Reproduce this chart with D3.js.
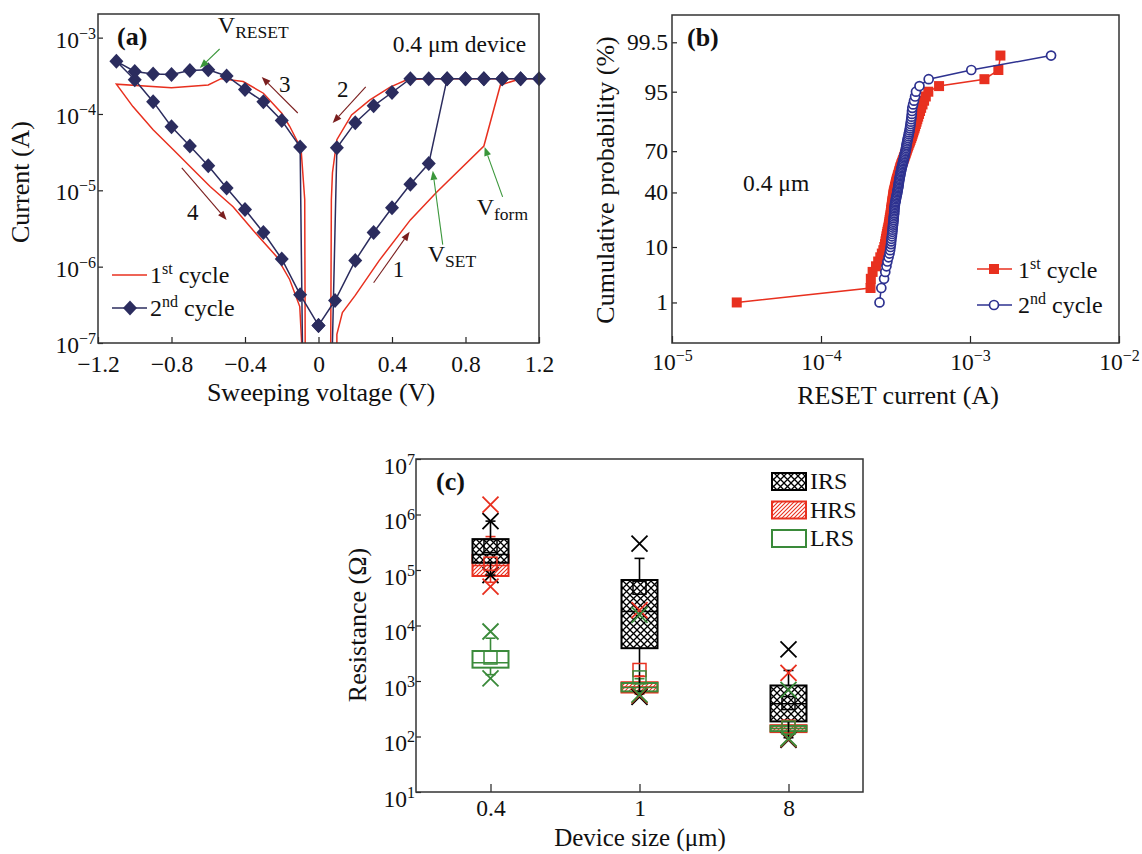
<!DOCTYPE html>
<html>
<head>
<meta charset="utf-8">
<script src="https://cdn.jsdelivr.net/npm/d3@7"></script>
<style>
  body { margin: 0; background: #fff; }
  text { font-family: "Liberation Serif", "Times New Roman", serif; fill: #111; }
</style>
</head>
<body>
<div id="chart"></div>
<script>
// ---------- (a) I-V sweeps, points in sweep order ----------
var cycle1V = [0.1, 0.1, 0.13, 0.2, 0.33, 0.5, 0.64, 0.9, 0.99, 1.1, 1.2,
  0.6, 0.48, 0.39, 0.28, 0.18, 0.1, 0.076, 0.07, 0.066,
  -0.072, -0.075, -0.095, -0.157, -0.2, -0.3, -0.41, -0.53, -0.6, -0.8, -1.1,
  -1.01, -0.9, -0.79, -0.68, -0.59, -0.465, -0.356, -0.23, -0.157, -0.102, -0.085]
var cycle1I = [5e-8, 1.3e-7, 2.5e-7, 4.2e-7, 1.2e-6, 4.1e-6, 9.3e-6, 3.8e-5, 2.4e-4, 2.9e-4, 2.9e-4,
  2.9e-4, 2.8e-4, 2.25e-4, 1.53e-4, 9.7e-5, 4.6e-5, 1.7e-5, 7.6e-6, 5e-8,
  5e-8, 7.6e-6, 3.5e-5, 6.9e-5, 1.02e-4, 1.87e-4, 2.66e-4, 2.9e-4, 2.4e-4, 2.2e-4, 2.46e-4,
  1.25e-4, 6.2e-5, 3.4e-5, 1.85e-5, 1.12e-5, 6.1e-6, 3.0e-6, 1.37e-6, 6.8e-7, 3.0e-7, 5e-8]

var cycle2V = [0, 0.09, 0.2, 0.3, 0.4, 0.5, 0.6, 0.7, 0.8, 0.9, 1.0, 1.1, 1.2,
  1.1, 1.0, 0.9, 0.8, 0.7, 0.6, 0.5, 0.4, 0.3, 0.2, 0.1, 0.073,
  -0.086, -0.1, -0.2, -0.3, -0.4, -0.5, -0.6, -0.7, -0.8, -0.9, -1.0, -1.1,
  -1.0, -0.9, -0.8, -0.7, -0.6, -0.5, -0.4, -0.3, -0.2, -0.1, 0]
var cycle2I = [1.7e-7, 3.6e-7, 1.2e-6, 2.8e-6, 5.9e-6, 1.2e-5, 2.24e-5, 2.9e-4, 2.9e-4, 2.9e-4, 2.9e-4, 2.9e-4, 2.9e-4,
  2.9e-4, 2.9e-4, 2.9e-4, 2.9e-4, 2.9e-4, 2.9e-4, 2.9e-4, 1.91e-4, 1.28e-4, 7.7e-5, 3.6e-5, 5e-8,
  5e-8, 3.7e-5, 8.2e-5, 1.45e-4, 2.1e-4, 3.15e-4, 3.8e-4, 3.7e-4, 3.3e-4, 3.35e-4, 3.6e-4, 4.9e-4,
  2.8e-4, 1.45e-4, 6.8e-5, 3.8e-5, 2.1e-5, 1.07e-5, 5.6e-6, 2.8e-6, 1.26e-6, 4.3e-7, 1.7e-7]

var voltTicks = [-1.2, -0.8, -0.4, 0, 0.4, 0.8, 1.2]
var currentTicks = [1e-7, 1e-6, 1e-5, 1e-4, 1e-3]

// sweep arrows: tail V, tail I, head V, head I, label, label V, label I
var sweepArrows = [
  [0.30, 6.15e-7, 0.496, 2.86e-6, '1', 0.436, 7.4e-7],
  [0.257, 2.26e-4, 0.077, 7.64e-5, '2', 0.132, 1.68e-4],
  [-0.113, 1.03e-4, -0.309, 3.06e-4, '3', -0.184, 1.94e-4],
  [-0.744, 1.97e-5, -0.50, 4.1e-6, '4', -0.685, 4.1e-6]
]
// switching voltage callouts: tail V, tail I, head V, head I, subscript, label V, label I
var voltCallouts = [
  [-0.538, 7.1e-4, -0.646, 4.0e-4, 'RESET', -0.548, 1.15e-3],
  [0.676, 1.94e-6, 0.622, 1.8e-5, 'SET', 0.594, 1.16e-6],
  [1.002, 8.2e-6, 0.904, 3.7e-5, 'form', 0.861, 4.8e-6]
]

// ---------- (b) RESET current distribution ----------
var probPct = [1, 2, 3, 4, 5, 6, 7, 8, 9, 10, 11, 12, 13, 14, 15, 16, 17, 18, 19, 20,
  21, 22, 23, 24, 25, 26, 27, 28, 29, 30, 31, 32, 33, 34, 35, 36, 37, 38, 39, 40,
  41, 42, 43, 44, 45, 46, 47, 48, 49, 50, 51, 52, 53, 54, 55, 56, 57, 58, 59, 60,
  61, 62, 63, 64, 65, 66, 67, 68, 69, 70, 71, 72, 73, 74, 75, 76, 77, 78, 79, 80,
  81, 82, 83, 84, 85, 86, 87, 88, 89, 90, 91, 92, 93, 94, 95, 96, 97, 98, 99]
// RESET current, in units of 1e-4 A
var reset1st = [0.272, 2.15, 2.16, 2.22, 2.34, 2.42, 2.50, 2.56, 2.62, 2.66,
  2.69, 2.71, 2.73, 2.75, 2.77, 2.79, 2.81, 2.83, 2.85, 2.86,
  2.88, 2.89, 2.90, 2.92, 2.93, 2.94, 2.95, 2.96, 2.97, 2.98,
  2.99, 3.00, 3.01, 3.02, 3.03, 3.04, 3.05, 3.06, 3.07, 3.08,
  3.10, 3.11, 3.13, 3.14, 3.16, 3.17, 3.19, 3.20, 3.22, 3.24,
  3.26, 3.28, 3.30, 3.32, 3.34, 3.36, 3.38, 3.40, 3.42, 3.45,
  3.47, 3.50, 3.53, 3.56, 3.59, 3.62, 3.65, 3.68, 3.71, 3.74,
  3.77, 3.80, 3.84, 3.87, 3.91, 3.95, 3.99, 4.03, 4.07, 4.11,
  4.15, 4.19, 4.24, 4.28, 4.33, 4.38, 4.43, 4.49, 4.55, 4.62,
  4.70, 4.80, 4.92, 5.05, 5.25, 6.20, 12.5, 15.5, 16.0]
var reset2nd = [2.47, 2.54, 2.65, 2.70, 2.75, 2.79, 2.84, 2.88, 2.91, 2.93,
  2.95, 2.96, 2.97, 2.99, 3.00, 3.01, 3.02, 3.03, 3.04, 3.05,
  3.06, 3.07, 3.07, 3.08, 3.09, 3.10, 3.10, 3.11, 3.11, 3.12,
  3.13, 3.14, 3.15, 3.17, 3.18, 3.19, 3.21, 3.22, 3.24, 3.25,
  3.26, 3.27, 3.29, 3.30, 3.31, 3.32, 3.33, 3.34, 3.35, 3.36,
  3.37, 3.39, 3.40, 3.41, 3.43, 3.44, 3.46, 3.47, 3.49, 3.51,
  3.53, 3.55, 3.56, 3.58, 3.60, 3.62, 3.64, 3.65, 3.67, 3.69,
  3.71, 3.72, 3.74, 3.75, 3.77, 3.79, 3.81, 3.83, 3.86, 3.88,
  3.90, 3.93, 3.95, 3.97, 3.99, 4.01, 4.03, 4.05, 4.07, 4.08,
  4.10, 4.15, 4.21, 4.28, 4.34, 4.58, 5.28, 10.2, 35.0]
var probTicks = [1, 10, 40, 70, 95, 99.5]
var resetTicks = [1e-5, 1e-4, 1e-3, 1e-2]

// ---------- (c) resistance per device size ----------
var deviceSizes = ['0.4', '1', '8']
// per size: [min, whisker low, Q1, median, Q3, whisker high, max, mean] in ohm
var irsStats = [
  [8.1e4, 8.1e4, 1.35e5, 1.9e5, 3.6e5, 7.6e5, 7.6e5, 2.7e5],
  [5.2e2, 6.5e2, 3.9e3, 1.78e4, 6.6e4, 1.62e5, 3.0e5, 4.8e4],
  [8.7e1, 9.5e1, 1.87e2, 3.9e2, 8.3e2, 1.55e3, 3.7e3, 4.0e2]
]
var hrsStats = [
  [5.0e4, 6.0e4, 7.8e4, 1.2e5, 1.87e5, 4.0e5, 1.5e6, 1.3e5],
  [5.5e2, 5.8e2, 6.2e2, 7.8e2, 9.5e2, 1.23e3, 1.9e4, 1.58e3],
  [9.0e1, 1.05e2, 1.2e2, 1.4e2, 1.6e2, 2.2e2, 1.4e3, 1.5e2]
]
var lrsStats = [
  [1.12e3, 1.3e3, 1.74e3, 2.14e3, 3.47e3, 5.9e3, 7.8e3, 2.65e3],
  [5.7e2, 6.0e2, 6.5e2, 7.6e2, 9.2e2, 1.1e3, 1.55e4, 1.16e3],
  [9.2e1, 1.1e2, 1.25e2, 1.4e2, 1.55e2, 2.0e2, 6.9e2, 1.45e2]
]
var resistTicks = [1e1, 1e2, 1e3, 1e4, 1e5, 1e6, 1e7]

var serif = '"Liberation Serif","Times New Roman",serif'
var red = '#e8301f'
var navy = '#2b2c5e'
var blue = '#2e3290'
var maroon = '#7a1e1e'
var green = '#3a963a'
var lrsGreen = '#3a8a3a'
var tickFont = 23.5, supFont = 16, titleFont = 26, textFont = 24

var svg = d3.select('#chart').append('svg')
  .attr('width', 1142).attr('height', 854)
  .attr('font-family', serif)

var defs = svg.append('defs')
defs.append('pattern').attr('id', 'crossHatch')
  .attr('patternUnits', 'userSpaceOnUse').attr('width', 7).attr('height', 7)
  .append('path').attr('d', 'M0,0L7,7M7,0L0,7')
  .attr('stroke', '#000').attr('stroke-width', 1.3)
defs.append('pattern').attr('id', 'redHatch')
  .attr('patternUnits', 'userSpaceOnUse').attr('width', 4).attr('height', 4)
  .append('path').attr('d', 'M0,4L4,0M-1,1L1,-1M3,5L5,3')
  .attr('stroke', red).attr('stroke-width', 1.1)

function powerLabels(g, dy) {
  g.selectAll('.tick text').each(function(d) {
    var e = Math.round(Math.log10(d))
    var t = d3.select(this).text('10').attr('dy', dy)
    t.append('tspan').attr('dy', -9).attr('font-size', supFont)
      .text(String(e).replace('-', '\u2212'))
  })
}
function tidyAxis(g) {
  g.attr('font-family', serif).attr('font-size', tickFont)
  g.select('.domain').remove()
  g.selectAll('.tick line').attr('stroke', '#222').attr('stroke-width', 1.2)
  g.selectAll('.tick text').attr('fill', '#111')
}
function frame(b) {
  svg.append('rect').attr('x', b.left).attr('y', b.top)
    .attr('width', b.right - b.left).attr('height', b.bottom - b.top)
    .attr('fill', 'none').attr('stroke', '#333').attr('stroke-width', 1.5)
}
function arrow(g, x1, y1, x2, y2, color) {
  var ang = Math.atan2(y2 - y1, x2 - x1), len = 9, w = 3.5
  var bx = x2 - len * Math.cos(ang), by = y2 - len * Math.sin(ang)
  g.append('line').attr('x1', x1).attr('y1', y1).attr('x2', bx).attr('y2', by)
    .attr('stroke', color).attr('stroke-width', 1.1)
  g.append('path')
    .attr('d', `M${x2},${y2}L${bx - w * Math.sin(ang)},${by + w * Math.cos(ang)}L${bx + w * Math.sin(ang)},${by - w * Math.cos(ang)}Z`)
    .attr('fill', color)
}
function ordinalText(g, x, y, n, sup) {
  var t = g.append('text').attr('x', x).attr('y', y).attr('font-size', textFont).text(n)
  t.append('tspan').attr('dy', -9).attr('font-size', supFont).text(sup)
  t.append('tspan').attr('dy', 9).text(' cycle')
}
// inverse normal CDF (Acklam)
function probit(p) {
  var a = [-39.69683028665376, 220.9460984245205, -275.9285104469687, 138.3577518672690, -30.66479806614716, 2.506628277459239]
  var b = [-54.47609879822406, 161.5858368580409, -155.6989798598866, 66.80131188771972, -13.28068155288572]
  var c = [-0.007784894002430293, -0.3223964580411365, -2.400758277161838, -2.549732539343734, 4.374664141464968, 2.938163982698783]
  var d = [0.007784695709041462, 0.3224671290700398, 2.445134137142996, 3.754408661907416]
  var q, r
  if (p < 0.02425) {
    q = Math.sqrt(-2 * Math.log(p))
    return (((((c[0] * q + c[1]) * q + c[2]) * q + c[3]) * q + c[4]) * q + c[5]) / ((((d[0] * q + d[1]) * q + d[2]) * q + d[3]) * q + 1)
  }
  if (p > 1 - 0.02425) return -probit(1 - p)
  q = p - 0.5
  r = q * q
  return (((((a[0] * r + a[1]) * r + a[2]) * r + a[3]) * r + a[4]) * r + a[5]) * q / (((((b[0] * r + b[1]) * r + b[2]) * r + b[3]) * r + b[4]) * r + 1)
}

// =================== (a) ===================
var boxA = { left: 98, right: 539, top: 14, bottom: 343 }
var xA = d3.scaleLinear().domain([-1.2, 1.2]).range([boxA.left, boxA.right])
var yA = d3.scaleLog().domain([1e-7, 2.04e-3]).range([boxA.bottom, boxA.top])

defs.append('clipPath').attr('id', 'clipA').append('rect')
  .attr('x', boxA.left).attr('y', boxA.top)
  .attr('width', boxA.right - boxA.left).attr('height', boxA.bottom - boxA.top)
defs.append('clipPath').attr('id', 'clipAMarks').append('rect')
  .attr('x', boxA.left - 20).attr('y', 0)
  .attr('width', boxA.right - boxA.left + 40).attr('height', boxA.bottom)

var pa = svg.append('g')
var lineA = d3.line().x(d => xA(d[0])).y(d => yA(d[1]))
var c1 = cycle1V.map((v, i) => [v, cycle1I[i]])
var c2 = cycle2V.map((v, i) => [v, cycle2I[i]])
var diamond = 'M0,-7.5L7,0L0,7.5L-7,0Z'

pa.append('path').datum(c1).attr('clip-path', 'url(#clipA)')
  .attr('d', lineA).attr('fill', 'none').attr('stroke', red).attr('stroke-width', 1.5)
pa.append('path').datum(c2).attr('clip-path', 'url(#clipA)')
  .attr('d', lineA).attr('fill', 'none').attr('stroke', navy).attr('stroke-width', 1.5)
pa.append('g').attr('clip-path', 'url(#clipAMarks)')
  .selectAll('path').data(c2).enter().append('path')
  .attr('d', diamond).attr('fill', navy)
  .attr('transform', d => `translate(${xA(d[0])},${yA(d[1])})`)

pa.append('g').attr('transform', `translate(0,${boxA.bottom})`)
  .call(d3.axisBottom(xA).tickValues(voltTicks).tickSize(-6).tickPadding(12)
    .tickFormat(d => d3.format('.1f')(d).replace('-', '\u2212').replace('0.0', '0')))
  .call(tidyAxis)
pa.append('g').attr('transform', `translate(${boxA.left},0)`)
  .call(d3.axisLeft(yA).tickValues(currentTicks).tickSize(-5).tickPadding(2))
  .call(tidyAxis).call(g => powerLabels(g, '0.4em'))
frame(boxA)

sweepArrows.forEach(a => {
  arrow(pa, xA(a[0]), yA(a[1]), xA(a[2]), yA(a[3]), maroon)
  pa.append('text').attr('x', xA(a[5])).attr('y', yA(a[6]))
    .attr('text-anchor', 'middle').attr('font-size', 23).text(a[4])
})
voltCallouts.forEach(a => {
  arrow(pa, xA(a[0]), yA(a[1]), xA(a[2]), yA(a[3]), green)
  var t = pa.append('text').attr('x', xA(a[5])).attr('y', yA(a[6])).attr('font-size', textFont).text('V')
  t.append('tspan').attr('dy', 5).attr('font-size', 17.5).text(a[4])
})
pa.append('text').attr('x', xA(0.404)).attr('y', yA(6.5e-4)).attr('font-size', 23.5).text('0.4 \u03bcm device')
pa.append('text').attr('x', boxA.left + 19).attr('y', boxA.top + 31)
  .attr('font-size', 26).attr('font-weight', 'bold').text('(a)')

// legend (a)
pa.append('line').attr('x1', 112).attr('x2', 147).attr('y1', 275).attr('y2', 275)
  .attr('stroke', red).attr('stroke-width', 1.5)
ordinalText(pa, 150, 283, '1', 'st')
pa.append('line').attr('x1', 112).attr('x2', 147).attr('y1', 308).attr('y2', 308)
  .attr('stroke', navy).attr('stroke-width', 1.5)
pa.append('path').attr('d', diamond).attr('fill', navy).attr('transform', 'translate(130,308)')
ordinalText(pa, 150, 316, '2', 'nd')

pa.append('text').attr('transform', 'translate(29,182) rotate(-90)')
  .attr('text-anchor', 'middle').attr('font-size', titleFont).text('Current (A)')
pa.append('text').attr('x', 321).attr('y', 401)
  .attr('text-anchor', 'middle').attr('font-size', titleFont).text('Sweeping voltage (V)')

// =================== (b) ===================
var boxB = { left: 672, right: 1119, top: 15, bottom: 343 }
var xB = d3.scaleLog().domain([1e-5, 1e-2]).range([boxB.left, boxB.right])
var yB = d3.scaleLinear().domain([probit(0.001), probit(0.999)]).range([boxB.bottom, boxB.top])

var pb = svg.append('g')
var r1 = probPct.map((p, i) => [reset1st[i] * 1e-4, p])
var r2 = probPct.map((p, i) => [reset2nd[i] * 1e-4, p])
var lineB = d3.line().x(d => xB(d[0])).y(d => yB(probit(d[1] / 100)))

pb.append('path').datum(r1).attr('d', lineB).attr('fill', 'none')
  .attr('stroke', red).attr('stroke-width', 1.5)
pb.selectAll('.sq').data(r1).enter().append('rect').attr('class', 'sq')
  .attr('x', d => xB(d[0]) - 5).attr('y', d => yB(probit(d[1] / 100)) - 5)
  .attr('width', 10).attr('height', 10).attr('fill', red)
pb.append('path').datum(r2).attr('d', lineB).attr('fill', 'none')
  .attr('stroke', blue).attr('stroke-width', 1.5)
pb.selectAll('.ci').data(r2).enter().append('circle').attr('class', 'ci')
  .attr('cx', d => xB(d[0])).attr('cy', d => yB(probit(d[1] / 100)))
  .attr('r', 4.5).attr('fill', '#fff').attr('stroke', blue).attr('stroke-width', 1.7)

pb.append('g').attr('transform', `translate(0,${boxB.bottom})`)
  .call(d3.axisBottom(xB).tickValues(resetTicks).tickSize(-7).tickPadding(10))
  .call(tidyAxis).call(g => powerLabels(g, '0.71em'))
pb.append('g').attr('transform', `translate(${boxB.left},0)`)
  .call(d3.axisLeft(yB).tickValues(probTicks.map(p => probit(p / 100))).tickSize(-5).tickPadding(4)
    .tickFormat((d, i) => probTicks[i]))
  .call(tidyAxis)
frame(boxB)

pb.append('text').attr('x', boxB.left + 15).attr('y', boxB.top + 31)
  .attr('font-size', 26).attr('font-weight', 'bold').text('(b)')
pb.append('text').attr('x', xB(3.0e-5)).attr('y', yB(probit(0.414)))
  .attr('font-size', 23.5).text('0.4 \u03bcm')

// legend (b)
pb.append('line').attr('x1', 977).attr('x2', 1012).attr('y1', 269).attr('y2', 269)
  .attr('stroke', red).attr('stroke-width', 1.5)
pb.append('rect').attr('x', 989).attr('y', 264).attr('width', 10).attr('height', 10).attr('fill', red)
ordinalText(pb, 1018, 278, '1', 'st')
pb.append('line').attr('x1', 977).attr('x2', 1012).attr('y1', 305).attr('y2', 305)
  .attr('stroke', blue).attr('stroke-width', 1.5)
pb.append('circle').attr('cx', 994).attr('cy', 305).attr('r', 4.5)
  .attr('fill', '#fff').attr('stroke', blue).attr('stroke-width', 1.7)
ordinalText(pb, 1018, 313, '2', 'nd')

pb.append('text').attr('transform', 'translate(614,180) rotate(-90)')
  .attr('text-anchor', 'middle').attr('font-size', titleFont).text('Cumulative probability (%)')
pb.append('text').attr('x', 898).attr('y', 404)
  .attr('text-anchor', 'middle').attr('font-size', titleFont).text('RESET current (A)')

// =================== (c) ===================
var boxC = { left: 416, right: 863, top: 459, bottom: 792 }
var xC = d3.scalePoint().domain(deviceSizes).range([boxC.left, boxC.right]).padding(0.5)
var yC = d3.scaleLog().domain([1e1, 1e7]).range([boxC.bottom, boxC.top])
var pc = svg.append('g')

var stateStyles = [
  { name: 'IRS', stats: irsStats, color: '#000', fill: 'url(#crossHatch)', bg: '#fff' },
  { name: 'HRS', stats: hrsStats, color: red, fill: 'url(#redHatch)', bg: 'none' },
  { name: 'LRS', stats: lrsStats, color: lrsGreen, fill: 'none', bg: 'none' }
]
var halfW = 18, capW = 5, xs = 8

// boxes: HRS and LRS first, IRS on top
;[stateStyles[1], stateStyles[2], stateStyles[0]].forEach(st => {
  var g = pc.append('g')
  st.stats.forEach((s, i) => {
    var cx = xC(deviceSizes[i])
    g.append('line').attr('x1', cx).attr('x2', cx).attr('y1', yC(s[1])).attr('y2', yC(s[2]))
      .attr('stroke', st.color).attr('stroke-width', 1.6)
    g.append('line').attr('x1', cx).attr('x2', cx).attr('y1', yC(s[4])).attr('y2', yC(s[5]))
      .attr('stroke', st.color).attr('stroke-width', 1.6)
    ;[s[1], s[5]].forEach(v => {
      g.append('line').attr('x1', cx - capW).attr('x2', cx + capW).attr('y1', yC(v)).attr('y2', yC(v))
        .attr('stroke', st.color).attr('stroke-width', 1.6)
    })
    if (st.bg !== 'none') {
      g.append('rect').attr('x', cx - halfW).attr('y', yC(s[4]))
        .attr('width', halfW * 2).attr('height', yC(s[2]) - yC(s[4])).attr('fill', st.bg)
    }
    g.append('rect').attr('x', cx - halfW).attr('y', yC(s[4]))
      .attr('width', halfW * 2).attr('height', yC(s[2]) - yC(s[4]))
      .attr('fill', st.fill).attr('stroke', st.color).attr('stroke-width', 2)
    g.append('line').attr('x1', cx - halfW).attr('x2', cx + halfW).attr('y1', yC(s[3])).attr('y2', yC(s[3]))
      .attr('stroke', st.color).attr('stroke-width', 1.5)
  })
})
stateStyles.forEach(st => {
  st.stats.forEach((s, i) => {
    var cx = xC(deviceSizes[i])
    pc.append('rect').attr('x', cx - 6.5).attr('y', yC(s[7]) - 6.5).attr('width', 13).attr('height', 13)
      .attr('fill', 'none').attr('stroke', st.color).attr('stroke-width', 1.5)
    ;[s[0], s[6]].forEach(v => {
      var y = yC(v)
      pc.append('path').attr('d', `M${cx - xs},${y - xs}L${cx + xs},${y + xs}M${cx + xs},${y - xs}L${cx - xs},${y + xs}`)
        .attr('stroke', st.color).attr('stroke-width', 1.8)
    })
  })
})

pc.append('g').attr('transform', `translate(0,${boxC.bottom})`)
  .call(d3.axisBottom(xC).tickSize(-8).tickPadding(7))
  .call(tidyAxis)
pc.append('g').attr('transform', `translate(${boxC.left},0)`)
  .call(d3.axisLeft(yC).tickValues(resistTicks).tickSize(-5).tickPadding(1))
  .call(tidyAxis).call(g => powerLabels(g, '0.6em'))
frame(boxC)

pc.append('text').attr('x', boxC.left + 20).attr('y', boxC.top + 31)
  .attr('font-size', 26).attr('font-weight', 'bold').text('(c)')

// legend (c)
stateStyles.forEach((st, i) => {
  var y = 473 + i * 28.5
  if (st.bg !== 'none') {
    pc.append('rect').attr('x', 772).attr('y', y).attr('width', 34).attr('height', 17).attr('fill', st.bg)
  }
  pc.append('rect').attr('x', 772).attr('y', y).attr('width', 34).attr('height', 17)
    .attr('fill', st.fill === 'none' ? '#fff' : st.fill).attr('stroke', st.color).attr('stroke-width', 2)
  pc.append('text').attr('x', 810).attr('y', y + 16).attr('font-size', textFont).text(st.name)
})

pc.append('text').attr('transform', 'translate(366,625) rotate(-90)')
  .attr('text-anchor', 'middle').attr('font-size', titleFont).text('Resistance (\u03a9)')
pc.append('text').attr('x', 640).attr('y', 846)
  .attr('text-anchor', 'middle').attr('font-size', 25).text('Device size (\u03bcm)')
</script>
</body>
</html>
